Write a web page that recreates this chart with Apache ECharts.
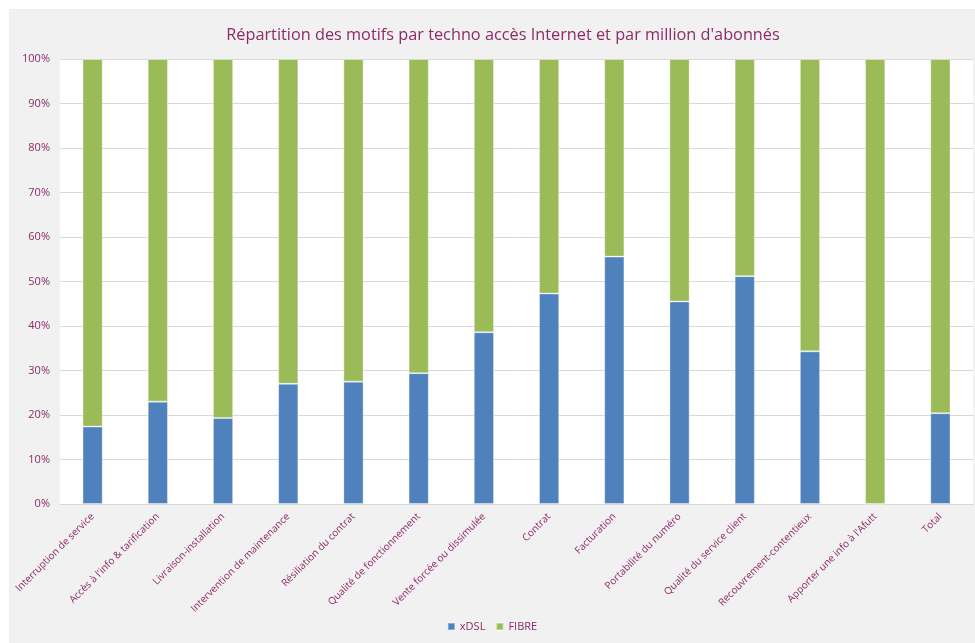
<!DOCTYPE html>
<html>
<head>
<meta charset="utf-8">
<script src="https://cdn.jsdelivr.net/npm/echarts@6/dist/echarts.min.js"></script>
<style>
  html, body { margin: 0; padding: 0; background: #ffffff; }
  #wrap { position: relative; width: 975px; height: 643px; }
  #chart { position: absolute; left: 9px; top: 9px; width: 966px; height: 634px; }
</style>
</head>
<body>
<div id="wrap"><div id="chart"></div></div>
<script>
const categories = [
  "Interruption de service",
  "Accès à l'info & tarification",
  "Livraison-installation",
  "Intervention de maintenance",
  "Résiliation du contrat",
  "Qualité de fonctionnement",
  "Vente forcée ou dissimulée",
  "Contrat",
  "Facturation",
  "Portabilité du numéro",
  "Qualité du service client",
  "Recouvrement-contentieux",
  "Apporter une info à l'Afutt",
  "Total"
];
// part xDSL en %
const xdslShare = [17.4, 23.0, 19.3, 27.0, 27.5, 29.4, 38.6, 47.3, 55.6, 45.5, 51.2, 34.3, 0, 20.4];
// part FIBRE en %
const fibreShare = [82.6, 77.0, 80.7, 73.0, 72.5, 70.6, 61.4, 52.7, 44.4, 54.5, 48.8, 65.7, 100, 79.6];

const purple = "#8e2a6a";
const chart = echarts.init(document.getElementById("chart"));

chart.setOption({
  backgroundColor: "#f1f1f1",
  animation: false,
  title: {
    text: "Répartition des motifs par techno accès Internet et par million d'abonnés",
    left: 489,
    top: 13,
    textAlign: "center",
    textStyle: { color: purple, fontSize: 16.3, fontWeight: "normal", fontFamily: "Open Sans" }
  },
  legend: {
    bottom: 6,
    left: "center",
    itemWidth: 7,
    itemHeight: 7,
    itemGap: 10,
    icon: "rect",
    textStyle: { color: purple, fontSize: 11, fontFamily: "Open Sans" },
    data: ["xDSL", "FIBRE"]
  },
  grid: {
    left: 51,
    right: 2,
    top: 50,
    bottom: 139,
    show: true,
    backgroundColor: "#ffffff",
    borderWidth: 0
  },
  xAxis: {
    type: "category",
    data: categories,
    axisTick: { show: false },
    axisLine: { lineStyle: { color: "#d9d9d9", width: 1 } },
    axisLabel: {
      rotate: 45,
      interval: 0,
      color: purple,
      fontSize: 10,
      fontFamily: "Open Sans",
      margin: 11
    }
  },
  yAxis: {
    type: "value",
    min: 0,
    max: 100,
    interval: 10,
    axisLine: { show: false },
    axisTick: { show: false },
    splitLine: { lineStyle: { color: "#d9d9d9", width: 1 } },
    axisLabel: {
      formatter: "{value}%",
      color: purple,
      fontSize: 11,
      fontFamily: "Open Sans",
      margin: 10
    }
  },
  series: [
    {
      name: "xDSL",
      type: "bar",
      stack: "total",
      barWidth: "31%",
      data: xdslShare,
      itemStyle: { color: "#4f81bd", borderColor: "rgba(255,255,255,0.35)", borderWidth: 1 }
    },
    {
      name: "FIBRE",
      type: "bar",
      stack: "total",
      barWidth: "31%",
      data: fibreShare,
      itemStyle: { color: "#9bbb59", borderColor: "rgba(255,255,255,0.35)", borderWidth: 1 }
    }
  ]
});
</script>
</body>
</html>
